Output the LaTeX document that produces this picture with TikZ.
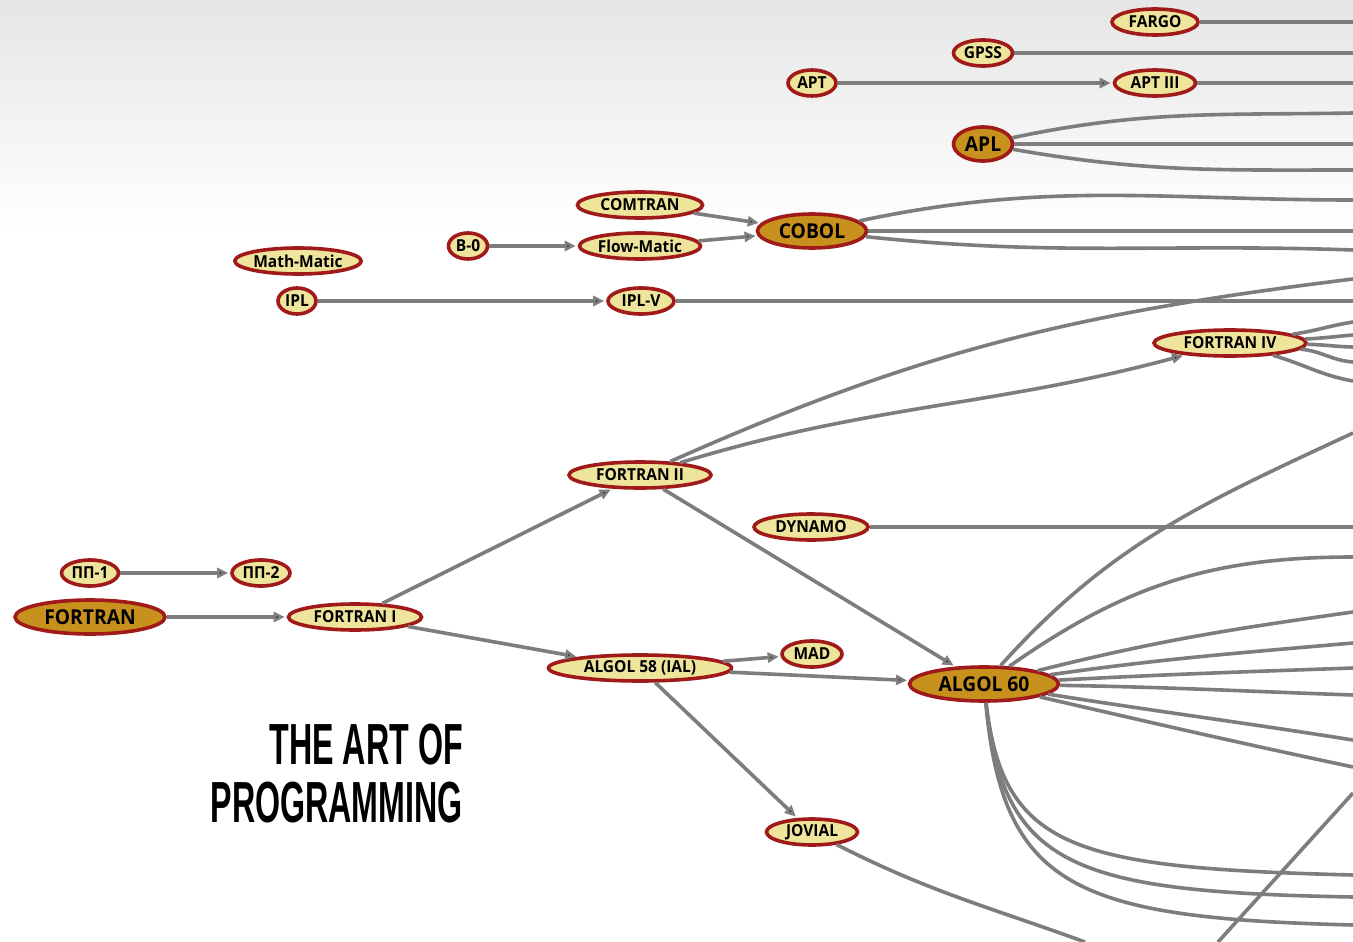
\documentclass[tikz,border=0pt]{standalone}
\usepackage{xcolor}
\usepackage{fontspec}
\usepackage{tikz}
\usetikzlibrary{shapes.geometric,arrows.meta}
\newfontfamily\langfont[FakeStretch=0.94]{Open Sans}
\newfontfamily\titlefont[FakeStretch=0.555]{Liberation Sans}
\definecolor{langfill}{RGB}{238,228,155}
\definecolor{rootfill}{RGB}{200,144,28}
\definecolor{langline}{RGB}{160,26,26}
\definecolor{linkgray}{RGB}{125,125,125}
\tikzset{
  lang/.style={ellipse, draw=langline, line width=3.6pt, fill=langfill, inner sep=0pt,
    minimum width=#1, minimum height=26pt, text=black,
    font=\langfont\bfseries\fontsize{16.5}{16.5}\selectfont},
  root/.style={lang=#1, fill=rootfill, minimum height=34pt,
    font=\langfont\bfseries\fontsize{20.5}{20.5}\selectfont},
  link/.style={draw=linkgray, line width=3.6pt},
  arrowtip/.style={-{Triangle[length=11pt,width=10pt]}, shorten >=2pt},
  title/.style={inner sep=0pt, font=\titlefont\bfseries\fontsize{58}{58}\selectfont}
}

\begin{document}
\begin{tikzpicture}[x=1pt,y=1pt]
    \useasboundingbox (0,0) rectangle (1353,-942);
    \fill[white] (0,0) rectangle (1353,-942);
    \shade[top color=black!10, bottom color=white] (0,0) rectangle (1353,-230);

    \node[lang=86](fargo) at (1155,-22) {FARGO};
    \node[lang=59](gpss) at (983,-53) {GPSS};
    \node[lang=48](apt) at (812,-83) {APT};
    \node[lang=81](aptIII) at (1155,-83) {APT III};
    \node[root=59](apl) at (983,-144) {APL};
    \node[lang=125](comtran) at (640,-205) {COMTRAN};
    \node[lang=121](flowmatic) at (640,-246) {Flow-Matic};
    \node[root=109](cobol) at (812,-231) {COBOL};
    \node[lang=39](bzero) at (468,-246) {B-0};
    \node[lang=123](mathmatic) at (298,-261) {Math-Matic};
    \node[lang=38](ipl) at (297,-301) {IPL};
    \node[lang=66](iplv) at (641,-301) {IPL-V};
    \node[lang=152](fortranIV) at (1230,-343) {FORTRAN IV};
    \node[lang=142](fortranII) at (640,-475) {FORTRAN II};
    \node[lang=114](dynamo) at (811,-527) {DYNAMO};
    \node[lang=57](pp1) at (90,-573) {ПП-1};
    \node[lang=58](pp2) at (261,-573) {ПП-2};
    \node[root=150](fortran) at (90,-617) {FORTRAN};
    \node[lang=133](fortranI) at (355,-617) {FORTRAN I};
    \node[lang=60](mad) at (812,-654) {MAD};
    \node[lang=183](algol58) at (640,-668) {ALGOL 58 (IAL)};
    \node[root=149](algol60) at (984,-684) {ALGOL 60};
    \node[lang=91](jovial) at (812,-832) {JOVIAL};

    \node[title,anchor=base east](artof) at (463,-764) {THE ART OF};
    \node[title,anchor=base east](programming) at (463,-822) {PROGRAMMING};

    \draw[link,arrowtip] (apt) edge (aptIII)
              (comtran) edge (cobol)
              (flowmatic) edge (cobol)
              (bzero) edge (flowmatic)
              (ipl) edge (iplv)
              (pp1) edge (pp2)
              (fortran) edge (fortranI)
              (fortranI) edge (fortranII)
              (fortranI) edge (algol58)
              (fortranII) edge (algol60)
              (algol58) edge (mad)
              (algol58) edge (algol60)
              (algol58) edge (jovial)
              (fortranII) edge[out=17,in=195] (fortranIV);

    \foreach \name/\y in {fargoR/22,gpssR/53,aptR/83,aplR/144,cobolR/231,iplvR/301,dynamoR/527}
      \coordinate (\name) at (1353,-\y);
    \draw[link] (fargo) -- (fargoR)
                (gpss) -- (gpssR)
                (aptIII) -- (aptR)
                (apl) -- (aplR)
                (cobol) -- (cobolR)
                (iplv) -- (iplvR)
                (dynamo) -- (dynamoR);

    \foreach \src/\y/\o/\i [count=\k] in {apl/113/12/181, apl/170/-10/180,
        cobol/200/12/180, cobol/250/-6/178, fortranII/279/24/187,
        fortranIV/322/8/189, fortranIV/335/3/185, fortranIV/347/-1/179,
        fortranIV/362/-5/176, fortranIV/381/-16/170,
        algol60/433/48/205, algol60/557/35/180,
        algol60/612/14/188, algol60/643/8/185, algol60/668/3/182,
        algol60/695/-1/178, algol60/740/-9/171, algol60/767/-13/168}
      {\coordinate (out\k) at (1353,-\y);
       \draw[link] (\src) to[out=\o,in=\i] (out\k);}

    \foreach \y/\ya/\yb [count=\k] in {875/850/868, 897/868/892, 925/888/918}
      {\coordinate (low\k) at (1353,-\y);
       \draw[link] (algol60) .. controls (1003,-\ya) and (1075,-\yb) .. (low\k);}

    \coordinate (jovialEnd) at (1085,-942);
    \draw[link] (jovial) to[out=-27,in=160] (jovialEnd);
    \coordinate (crossA) at (1218,-942);
    \coordinate (crossB) at (1353,-793);
    \draw[link] (crossA) -- (crossB);
\end{tikzpicture}
\end{document}
